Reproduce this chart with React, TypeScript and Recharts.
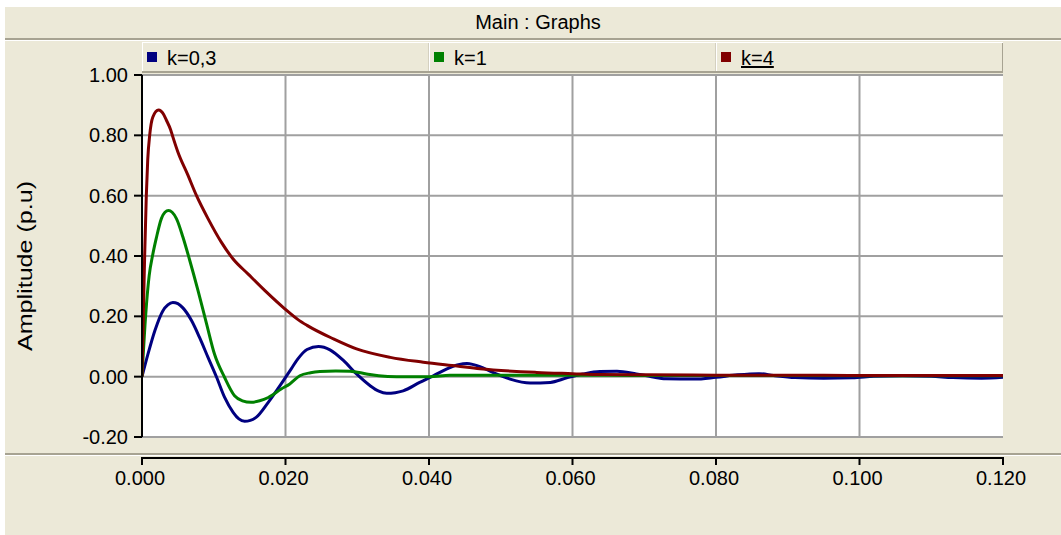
import React from 'react';
import { LineChart, Line, XAxis, YAxis, CartesianGrid, ReferenceLine, Legend, Label } from 'recharts';

// Step response samples, time in milliseconds, amplitude in p.u.
const timeK03Ms = [0, 0.8, 1.8, 2.9, 3.6, 4.3, 5.0, 5.7, 6.9, 8.0, 9.2, 10.4, 11.5, 12.7, 13.5, 14.3, 15.1, 15.9, 17.6, 19.4, 20.8, 21.7, 23.0, 24.6, 26.2, 28.1, 29.9, 31.8, 33.0, 34.1, 35.3, 36.4, 38.7, 40.6, 42.5, 44.1, 45.3, 46.2, 47.1, 48.9, 51.3, 54.1, 56.9, 59.2, 61.5, 63.8, 66.2, 68.9, 71, 73, 77, 80, 83, 86, 88, 91, 95, 99, 102, 106, 110, 113, 117, 120];
const ampK03 = [0, 0.072, 0.153, 0.218, 0.238, 0.246, 0.242, 0.228, 0.186, 0.131, 0.064, -0.002, -0.068, -0.118, -0.14, -0.148, -0.145, -0.135, -0.085, -0.024, 0.026, 0.058, 0.09, 0.1, 0.089, 0.053, 0.009, -0.03, -0.048, -0.055, -0.053, -0.047, -0.019, 0.003, 0.026, 0.04, 0.044, 0.04, 0.033, 0.014, -0.008, -0.021, -0.019, -0.004, 0.009, 0.017, 0.018, 0.009, 0, -0.007, -0.008, -0.002, 0.006, 0.01, 0.004, -0.003, -0.005, -0.004, 0.001, 0.003, 0.001, -0.003, -0.005, -0.002];

const timeK1Ms = [0, 0.5, 1.0, 1.5, 2.0, 2.7, 3.2, 3.7, 4.2, 4.8, 5.7, 6.6, 7.8, 9.0, 10.1, 11.5, 12.9, 14.0, 15.2, 16.4, 17.6, 19.4, 20.6, 22.0, 23.5, 24.8, 27, 29.0, 31.3, 33, 35.5, 40.1, 42.9, 50, 60, 70, 80, 100, 120];
const ampK1 = [0, 0.2, 0.335, 0.405, 0.46, 0.524, 0.545, 0.551, 0.545, 0.524, 0.463, 0.39, 0.286, 0.175, 0.075, -0.002, -0.063, -0.08, -0.085, -0.08, -0.069, -0.041, -0.024, 0.003, 0.013, 0.017, 0.019, 0.018, 0.009, 0.003, 0, 0, 0.005, 0.005, 0.005, 0.004, 0.004, 0.003, 0.003];

const timeK4Ms = [0, 0.2, 0.37, 0.6, 0.8, 1.07, 1.5, 2.3, 3.0, 3.4, 4.0, 4.3, 5.0, 6.4, 7.6, 9.2, 11.05, 12.7, 14.8, 17.1, 19.9, 21.7, 23.0, 26.7, 29.9, 34.6, 39.2, 43.9, 47.1, 55, 60, 64, 70, 80, 90, 100, 110, 120];
const ampK4 = [0, 0.22, 0.40, 0.60, 0.72, 0.80, 0.86, 0.884, 0.87, 0.85, 0.818, 0.795, 0.745, 0.668, 0.60, 0.524, 0.446, 0.39, 0.34, 0.286, 0.225, 0.19, 0.17, 0.125, 0.092, 0.064, 0.048, 0.035, 0.026, 0.014, 0.01, 0.007, 0.006, 0.005, 0.005, 0.004, 0.004, 0.004];

const seriesNames = ['k=0,3', 'k=1', 'k=4'];
const seriesColors = ['#000080', '#008000', '#800000'];

const xTicks = [0, 0.02, 0.04, 0.06, 0.08, 0.1, 0.12];
const xGridValues = [0.02, 0.04, 0.06, 0.08, 0.1];
const yTicks = [-0.2, 0, 0.2, 0.4, 0.6, 0.8, 1.0];

const toPoints = (timesMs: number[], amps: number[]) =>
  timesMs.map((t, i) => ({ t: t / 1000, v: amps[i] }));

const seriesData = [
  toPoints(timeK03Ms, ampK03),
  toPoints(timeK1Ms, ampK1),
  toPoints(timeK4Ms, ampK4),
];

const FONT = '"Liberation Sans", Arial, sans-serif';
const PANEL = '#ECE9D8';
const SHADOW = '#A7A392';
const GRID = '#A0A0A0';

const XTick = (props: any) => {
  const { x, y, payload } = props;
  return (
    <g>
      <line x1={x} x2={x} y1={y + 20} y2={y + 28} stroke="#000" strokeWidth={2} />
      <text x={x - 2} y={y + 48} textAnchor="middle" fontSize={20} fill="#000" fontFamily={FONT}>
        {Number(payload.value).toFixed(3)}
      </text>
    </g>
  );
};

const LegendBar = (props: any) => {
  const payload = props.payload || [];
  return (
    <div
      style={{
        display: 'flex',
        width: 861,
        height: 31,
        background: PANEL,
        borderTop: '1px solid #fff',
        borderBottom: `2px solid ${SHADOW}`,
        boxSizing: 'border-box',
        fontFamily: FONT,
      }}
    >
      {payload.map((item: any, i: number) => (
        <div
          key={item.value}
          style={{
            flex: 1,
            position: 'relative',
            borderLeft: '1px solid #fff',
            borderRight: `1px solid ${i === payload.length - 1 ? SHADOW : '#D4D0C0'}`,
          }}
        >
          <span
            style={{
              position: 'absolute',
              left: 4,
              top: 9,
              width: 10,
              height: 10,
              background: item.color,
            }}
          />
          <span
            style={{
              position: 'absolute',
              left: 24,
              top: 4,
              fontSize: 20,
              lineHeight: '22px',
              color: '#000',
              textDecoration: i === payload.length - 1 ? 'underline' : 'none',
            }}
          >
            {item.value}
          </span>
        </div>
      ))}
    </div>
  );
};

const YTitle = () => (
  <text
    transform="translate(25,266) rotate(-90)"
    textAnchor="middle"
    dominantBaseline="central"
    fontSize={20}
    fill="#000"
    fontFamily={FONT}
    textLength={170}
    lengthAdjust="spacingAndGlyphs"
  >
    Amplitude (p.u)
  </text>
);

export default function App() {
  return (
    <div
      style={{
        position: 'absolute',
        left: 0,
        top: 0,
        width: 1061,
        height: 535,
        background: '#fff',
        overflow: 'hidden',
        fontFamily: FONT,
      }}
    >
      {/* window panel */}
      <div style={{ position: 'absolute', left: 5, top: 7, right: 0, bottom: 0, background: PANEL }} />
      {/* title bar */}
      <div
        style={{
          position: 'absolute',
          left: 5,
          top: 7,
          width: 1066,
          height: 31,
          lineHeight: '31px',
          textAlign: 'center',
          fontSize: 20,
          color: '#000',
        }}
      >
        Main : Graphs
      </div>
      <div style={{ position: 'absolute', left: 5, top: 38, right: 0, height: 2, background: SHADOW }} />
      <div style={{ position: 'absolute', left: 5, top: 40, right: 0, height: 1, background: '#fff' }} />
      {/* separator between plot and time axis */}
      <div style={{ position: 'absolute', left: 5, top: 453, right: 0, height: 2, background: SHADOW }} />
      <div style={{ position: 'absolute', left: 5, top: 455, right: 0, height: 1, background: '#fff' }} />
      {/* time axis line */}
      <div style={{ position: 'absolute', left: 141, top: 457, width: 863, height: 2, background: '#000' }} />

      <div style={{ position: 'absolute', left: 0, top: 0 }}>
        <LineChart width={1061} height={535} margin={{ top: 75, right: 58, bottom: 38, left: 82 }}>
          <CartesianGrid vertical={false} stroke={GRID} strokeWidth={2} fill="#fff" fillOpacity={1} />
          {xGridValues.map((v) => (
            <ReferenceLine key={v} x={v} stroke={GRID} strokeWidth={2} />
          ))}
          <XAxis
            dataKey="t"
            type="number"
            domain={[0, 0.12]}
            ticks={xTicks}
            height={60}
            axisLine={false}
            tickLine={false}
            tickSize={0}
            tickMargin={0}
            tick={<XTick />}
            interval={0}
            allowDataOverflow
          />
          <YAxis
            type="number"
            domain={[-0.2, 1.0]}
            ticks={yTicks}
            width={60}
            interval={0}
            axisLine={{ stroke: '#000', strokeWidth: 2 }}
            tickLine={{ stroke: '#000', strokeWidth: 2 }}
            tickSize={8}
            tickMargin={6}
            tick={{ fill: '#000', fontSize: 20, fontFamily: FONT }}
            tickFormatter={(v: number) => v.toFixed(2)}
            allowDataOverflow
            label={<Label content={<YTitle />} />}
          />
          <Legend
            layout="vertical"
            verticalAlign="middle"
            align="center"
            content={<LegendBar />}
            wrapperStyle={{ position: 'absolute', left: 142, top: 42, width: 861, height: 31 }}
          />
          {seriesData.map((data, i) => (
            <Line
              key={seriesNames[i]}
              data={data}
              dataKey="v"
              name={seriesNames[i]}
              type="monotone"
              stroke={seriesColors[i]}
              strokeWidth={3}
              dot={false}
              activeDot={false}
              isAnimationActive={false}
            />
          ))}
        </LineChart>
      </div>
    </div>
  );
}
